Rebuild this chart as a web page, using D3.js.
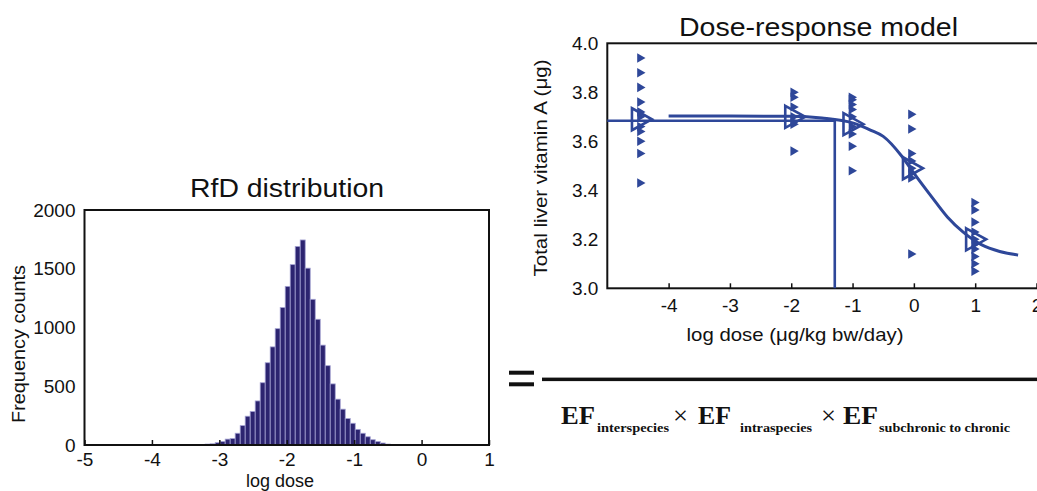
<!DOCTYPE html>
<html>
<head>
<meta charset="utf-8">
<title>RfD distribution and dose-response model</title>
<script src="https://d3js.org/d3.v7.min.js"></script>
<style>
  body { margin: 0; background: #fff; }
  text { font-family: "Liberation Sans", Arial, sans-serif; fill: #111; }
  .eq text { font-family: "Liberation Serif", "Times New Roman", serif; font-weight: bold; }
</style>
</head>
<body>
<svg id="chart" width="1037" height="491"></svg>
<script>
// ---- histogram (RfD distribution) ----
var binStart = -3.21, binWidth = 0.0742;
var counts = [8, 10, 20, 30, 50, 55, 100, 165, 245, 285, 375, 530, 700, 835, 990, 1170,
              1350, 1535, 1690, 1745, 1505, 1240, 1070, 850, 675, 520, 390, 305, 225, 185,
              133, 100, 70, 45, 30, 17, 8, 5];
var histXTicks = [-5, -4, -3, -2, -1, 0, 1];
var histYTicks = [0, 500, 1000, 1500, 2000];

// ---- dose-response model ----
var groupX = [-4.5, -2.0, -1.05, -0.08, 0.95];
var groupPoints = [
  [3.94, 3.88, 3.82, 3.76, 3.72, 3.70, 3.66, 3.64, 3.60, 3.55, 3.43],
  [3.80, 3.78, 3.74, 3.70, 3.68, 3.67, 3.56],
  [3.78, 3.77, 3.75, 3.73, 3.70, 3.66, 3.63, 3.58, 3.48],
  [3.71, 3.65, 3.55, 3.52, 3.49, 3.47, 3.45, 3.14],
  [3.35, 3.32, 3.27, 3.23, 3.20, 3.18, 3.16, 3.13, 3.10, 3.07]
];
var groupMeans = [3.69, 3.70, 3.67, 3.49, 3.20];
var curveX = [-4.0, -3.0, -2.0, -1.5, -1.0, -0.7, -0.5, -0.2, 0.0, 0.3, 0.55, 0.8, 1.1, 1.4, 1.7];
var curveY = [3.703, 3.703, 3.702, 3.695, 3.675, 3.645, 3.62, 3.54, 3.47, 3.37, 3.29, 3.23, 3.178, 3.15, 3.136];
var bmdX = -1.29, bmdY = 3.684;
var doseXTicks = [-4, -3, -2, -1, 0, 1, 2];
var doseYTicks = [3.0, 3.2, 3.4, 3.6, 3.8, 4.0];

var blue = "#2e4799", navy = "#2c2470";
var svg = d3.select("#chart");

// plain hyphen for negatives, like the original
var intFmt = function(d) { return String(d); };

function styleTicks(g) {
  g.select(".domain").remove();
  g.selectAll("line").style("stroke", "#111").style("stroke-width", 1.5);
  g.selectAll("text").style("font-size", "19px").style("font-family", "Liberation Sans, Arial").attr("fill", "#111");
}

/* ---------- left panel ---------- */
var hx = d3.scaleLinear().domain([-5, 1]).range([84.5, 489]);
var hy = d3.scaleLinear().domain([0, 2000]).range([445, 210]);
var left = svg.append("g");

left.selectAll("rect.bar")
  .data(counts)
  .enter().append("rect")
  .attr("class", "bar")
  .attr("x", function(d, i) { return hx(binStart + i * binWidth); })
  .attr("width", function(d, i) { return hx(binStart + (i + 1) * binWidth) - hx(binStart + i * binWidth); })
  .attr("y", function(d) { return hy(d); })
  .attr("height", function(d) { return hy(0) - hy(d); })
  .style("fill", navy)
  .style("stroke", "#a4a2d2")
  .style("stroke-width", 0.8);

left.append("rect")
  .attr("x", hx(-5)).attr("y", hy(2000))
  .attr("width", hx(1) - hx(-5)).attr("height", hy(0) - hy(2000))
  .style("fill", "none").style("stroke", "#111").style("stroke-width", 2);

left.append("g").attr("transform", "translate(0," + hy(0) + ")")
  .call(d3.axisBottom(hx).tickValues(histXTicks).tickSize(-5).tickPadding(8).tickFormat(intFmt))
  .call(styleTicks);
left.append("g").attr("transform", "translate(" + hx(-5) + ",0)")
  .call(d3.axisLeft(hy).tickValues(histYTicks).tickSize(0).tickPadding(9).tickFormat(intFmt))
  .call(styleTicks);

left.append("text").attr("x", 287).attr("y", 197).attr("text-anchor", "middle")
  .style("font-size", "26px").attr("textLength", 194).attr("lengthAdjust", "spacingAndGlyphs")
  .text("RfD distribution");
left.append("text").attr("x", 280).attr("y", 487).attr("text-anchor", "middle")
  .style("font-size", "18px").text("log dose");
left.append("text").attr("transform", "translate(25,344) rotate(-90)").attr("text-anchor", "middle")
  .style("font-size", "19px").attr("textLength", 158).attr("lengthAdjust", "spacingAndGlyphs")
  .text("Frequency counts");

/* ---------- right panel ---------- */
var dx = d3.scaleLinear().domain([-5, 2]).range([607.3, 1036.5]);
var dy = d3.scaleLinear().domain([3.0, 4.0]).range([288.3, 43.3]);
var right = svg.append("g");

right.append("rect")
  .attr("x", dx(-5)).attr("y", dy(4.0))
  .attr("width", dx(2.8) - dx(-5)).attr("height", dy(3.0) - dy(4.0))
  .style("fill", "none").style("stroke", "#111").style("stroke-width", 2);

right.append("g").attr("transform", "translate(0," + dy(3.0) + ")")
  .call(d3.axisBottom(dx).tickValues(doseXTicks).tickSize(-5).tickPadding(10).tickFormat(intFmt))
  .call(styleTicks);
right.append("g").attr("transform", "translate(" + dx(-5) + ",0)")
  .call(d3.axisLeft(dy).tickValues(doseYTicks).tickSize(0).tickPadding(9).tickFormat(d3.format(".1f")))
  .call(styleTicks);

// benchmark dose lines
right.append("path")
  .attr("d", d3.line()([[dx(-5), dy(bmdY)], [dx(bmdX), dy(bmdY)], [dx(bmdX), dy(3.0)]]))
  .style("fill", "none").style("stroke", blue).style("stroke-width", 2.6);

// fitted curve
right.append("path")
  .datum(curveX.map(function(x, i) { return [x, curveY[i]]; }))
  .attr("d", d3.line().x(function(d) { return dx(d[0]); }).y(function(d) { return dy(d[1]); })
    .curve(d3.curveMonotoneX))
  .style("fill", "none").style("stroke", blue).style("stroke-width", 3);

// individual observations
var pts = [];
groupPoints.forEach(function(vals, g) {
  vals.forEach(function(v) { pts.push({ x: groupX[g], y: v }); });
});
right.selectAll("path.pt")
  .data(pts)
  .enter().append("path")
  .attr("class", "pt")
  .attr("d", d3.symbol(d3.symbolTriangle, 40))
  .attr("transform", function(d) { return "translate(" + (dx(d.x) + 2) + "," + dy(d.y) + ") rotate(90)"; })
  .style("fill", blue);

// group means: open triangles
right.selectAll("path.mean")
  .data(groupMeans)
  .enter().append("path")
  .attr("class", "mean")
  .attr("d", "M-8,-11 L12,0 L-8,11 Z")
  .attr("transform", function(d, i) { return "translate(" + (dx(groupX[i]) + 2) + "," + dy(d) + ")"; })
  .style("fill", "none").style("stroke", blue).style("stroke-width", 2.6);

right.append("text").attr("x", 818.5).attr("y", 36).attr("text-anchor", "middle")
  .style("font-size", "26px").attr("textLength", 279).attr("lengthAdjust", "spacingAndGlyphs")
  .text("Dose-response model");
right.append("text").attr("x", 795).attr("y", 341).attr("text-anchor", "middle")
  .style("font-size", "19px").attr("textLength", 217).attr("lengthAdjust", "spacingAndGlyphs")
  .text("log dose (\u03bcg/kg bw/day)");
right.append("text").attr("transform", "translate(547,168) rotate(-90)").attr("text-anchor", "middle")
  .style("font-size", "19px").attr("textLength", 217).attr("lengthAdjust", "spacingAndGlyphs")
  .text("Total liver vitamin A (\u03bcg)");

/* ---------- equation ---------- */
var eq = svg.append("g").attr("class", "eq");
eq.append("rect").attr("x", 509).attr("y", 370.7).attr("width", 25).attr("height", 4).style("fill", "#111");
eq.append("rect").attr("x", 509).attr("y", 382.3).attr("width", 25).attr("height", 4).style("fill", "#111");
eq.append("rect").attr("x", 542).attr("y", 377.6).attr("width", 500).attr("height", 3.5).style("fill", "#111");

var terms = [
  { t: "EF", x: 561, y: 424, s: 26, w: 34 },
  { t: "interspecies", x: 597, y: 432, s: 13, w: 72 },
  { t: "\u00d7", x: 673, y: 424, s: 26, w: 15 },
  { t: "EF", x: 698, y: 424, s: 26, w: 33 },
  { t: "intraspecies", x: 740, y: 432, s: 13, w: 72 },
  { t: "\u00d7", x: 821, y: 424, s: 26, w: 15 },
  { t: "EF", x: 843, y: 424, s: 26, w: 35 },
  { t: "subchronic to chronic", x: 879, y: 432, s: 13, w: 131 }
];
eq.selectAll("text.term")
  .data(terms)
  .enter().append("text")
  .attr("class", "term")
  .attr("x", function(d) { return d.x; })
  .attr("y", function(d) { return d.y; })
  .attr("textLength", function(d) { return d.w; })
  .attr("lengthAdjust", "spacingAndGlyphs")
  .style("font-size", function(d) { return d.s + "px"; })
  .style("font-weight", function(d) { return d.t === "\u00d7" ? "normal" : "bold"; })
  .text(function(d) { return d.t; });
</script>
</body>
</html>
